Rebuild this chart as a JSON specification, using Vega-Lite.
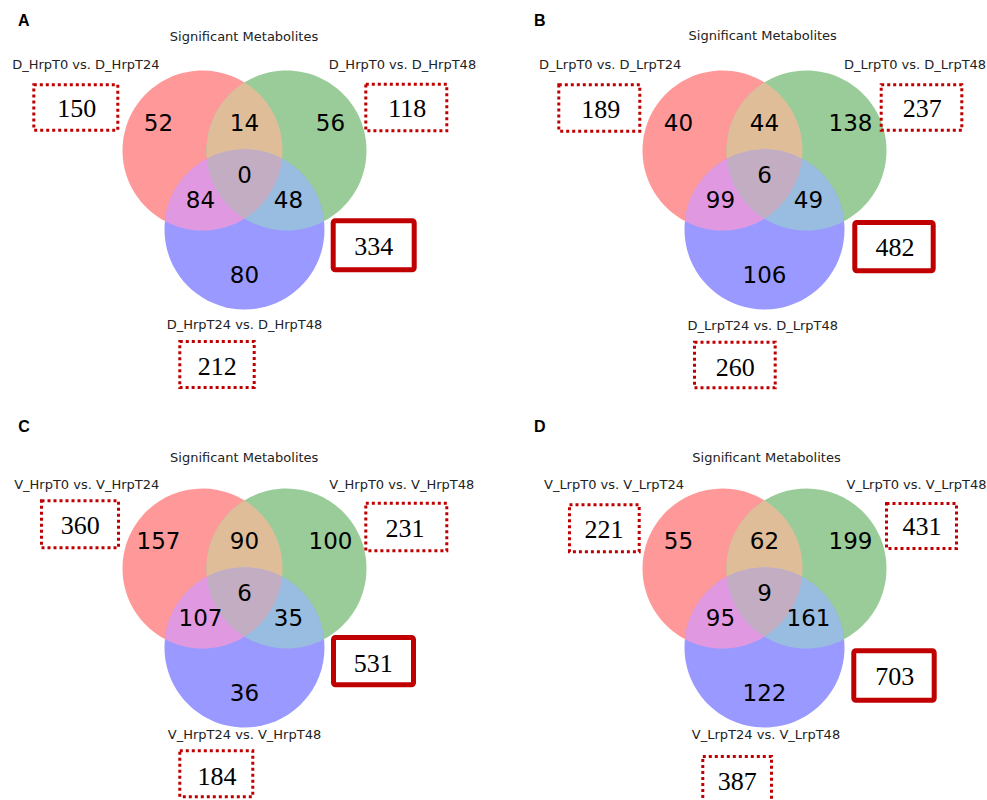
{
  "$schema": "https://vega.github.io/schema/vega-lite/v6.json",
  "padding": 0,
  "background": "white",
  "datasets": {
    "figure": [
      {"panel": "A", "part": "region", "region": "100", "n": 52},
      {"panel": "A", "part": "region", "region": "010", "n": 56},
      {"panel": "A", "part": "region", "region": "001", "n": 80},
      {"panel": "A", "part": "region", "region": "110", "n": 14},
      {"panel": "A", "part": "region", "region": "101", "n": 84},
      {"panel": "A", "part": "region", "region": "011", "n": 48},
      {"panel": "A", "part": "region", "region": "111", "n": 0},
      {"panel": "A", "part": "tag", "slot": "A-tag"},
      {"panel": "A", "part": "head", "slot": "A-head", "text": "Significant Metabolites"},
      {"panel": "A", "part": "set", "slot": "A-1", "text": "D_HrpT0 vs. D_HrpT24", "n": 150},
      {"panel": "A", "part": "set", "slot": "A-2", "text": "D_HrpT0 vs. D_HrpT48", "n": 118},
      {"panel": "A", "part": "set", "slot": "A-3", "text": "D_HrpT24 vs. D_HrpT48", "n": 212},
      {"panel": "A", "part": "union", "slot": "A-all", "n": 334},

      {"panel": "B", "part": "region", "region": "100", "n": 40},
      {"panel": "B", "part": "region", "region": "010", "n": 138},
      {"panel": "B", "part": "region", "region": "001", "n": 106},
      {"panel": "B", "part": "region", "region": "110", "n": 44},
      {"panel": "B", "part": "region", "region": "101", "n": 99},
      {"panel": "B", "part": "region", "region": "011", "n": 49},
      {"panel": "B", "part": "region", "region": "111", "n": 6},
      {"panel": "B", "part": "tag", "slot": "B-tag"},
      {"panel": "B", "part": "head", "slot": "B-head", "text": "Significant Metabolites"},
      {"panel": "B", "part": "set", "slot": "B-1", "text": "D_LrpT0 vs. D_LrpT24", "n": 189},
      {"panel": "B", "part": "set", "slot": "B-2", "text": "D_LrpT0 vs. D_LrpT48", "n": 237},
      {"panel": "B", "part": "set", "slot": "B-3", "text": "D_LrpT24 vs. D_LrpT48", "n": 260},
      {"panel": "B", "part": "union", "slot": "B-all", "n": 482},

      {"panel": "C", "part": "region", "region": "100", "n": 157},
      {"panel": "C", "part": "region", "region": "010", "n": 100},
      {"panel": "C", "part": "region", "region": "001", "n": 36},
      {"panel": "C", "part": "region", "region": "110", "n": 90},
      {"panel": "C", "part": "region", "region": "101", "n": 107},
      {"panel": "C", "part": "region", "region": "011", "n": 35},
      {"panel": "C", "part": "region", "region": "111", "n": 6},
      {"panel": "C", "part": "tag", "slot": "C-tag"},
      {"panel": "C", "part": "head", "slot": "C-head", "text": "Significant Metabolites"},
      {"panel": "C", "part": "set", "slot": "C-1", "text": "V_HrpT0 vs. V_HrpT24", "n": 360},
      {"panel": "C", "part": "set", "slot": "C-2", "text": "V_HrpT0 vs. V_HrpT48", "n": 231},
      {"panel": "C", "part": "set", "slot": "C-3", "text": "V_HrpT24 vs. V_HrpT48", "n": 184},
      {"panel": "C", "part": "union", "slot": "C-all", "n": 531},

      {"panel": "D", "part": "region", "region": "100", "n": 55},
      {"panel": "D", "part": "region", "region": "010", "n": 199},
      {"panel": "D", "part": "region", "region": "001", "n": 122},
      {"panel": "D", "part": "region", "region": "110", "n": 62},
      {"panel": "D", "part": "region", "region": "101", "n": 95},
      {"panel": "D", "part": "region", "region": "011", "n": 161},
      {"panel": "D", "part": "region", "region": "111", "n": 9},
      {"panel": "D", "part": "tag", "slot": "D-tag"},
      {"panel": "D", "part": "head", "slot": "D-head", "text": "Significant Metabolites"},
      {"panel": "D", "part": "set", "slot": "D-1", "text": "V_LrpT0 vs. V_LrpT24", "n": 221},
      {"panel": "D", "part": "set", "slot": "D-2", "text": "V_LrpT0 vs. V_LrpT48", "n": 431},
      {"panel": "D", "part": "set", "slot": "D-3", "text": "V_LrpT24 vs. V_LrpT48", "n": 387},
      {"panel": "D", "part": "union", "slot": "D-all", "n": 703}
    ],
    "regionLayout": [
      {"region": "100", "rx": 158.5, "ry": 123},
      {"region": "010", "rx": 330.5, "ry": 123},
      {"region": "001", "rx": 244.5, "ry": 275},
      {"region": "110", "rx": 244.5, "ry": 123},
      {"region": "101", "rx": 200.5, "ry": 200},
      {"region": "011", "rx": 288.5, "ry": 200},
      {"region": "111", "rx": 244.5, "ry": 174.5}
    ],
    "slotLayout": [
      {"slot": "A-tag", "lx": 18, "ly": 26},
      {"slot": "A-head", "lx": 244, "ly": 40.5},
      {"slot": "A-1", "lx": 85.8, "ly": 68.8, "nx": 76.7, "ny": 108, "x0": 33.8, "x1": 117.8, "y0": 84.8, "y1": 130.2},
      {"slot": "A-2", "lx": 402.5, "ly": 68.8, "nx": 407.2, "ny": 108.3, "x0": 365.8, "x1": 446.8, "y0": 84.2, "y1": 130.8},
      {"slot": "A-3", "lx": 244.5, "ly": 328.8, "nx": 217.2, "ny": 366.2, "x0": 179.8, "x1": 254.2, "y0": 341.5, "y1": 387.5},
      {"slot": "A-all", "nx": 373.7, "ny": 245.8, "x0": 333.2, "x1": 414.2, "y0": 220.8, "y1": 269.8},

      {"slot": "B-tag", "lx": 14, "ly": 26},
      {"slot": "B-head", "lx": 242.7, "ly": 40.2},
      {"slot": "B-1", "lx": 90.2, "ly": 68.8, "nx": 80.7, "ny": 108.7, "x0": 38.8, "x1": 119.8, "y0": 84.8, "y1": 131.2},
      {"slot": "B-2", "lx": 395, "ly": 68.8, "nx": 402.3, "ny": 108, "x0": 361.2, "x1": 441.8, "y0": 84.8, "y1": 130.2},
      {"slot": "B-3", "lx": 242.8, "ly": 330.2, "nx": 215.3, "ny": 366.5, "x0": 174.5, "x1": 255.2, "y0": 342.2, "y1": 387.8},
      {"slot": "B-all", "nx": 375, "ny": 247.3, "x0": 334.8, "x1": 413.2, "y0": 222.5, "y1": 270.8},

      {"slot": "C-tag", "lx": 18.3, "ly": 13.7},
      {"slot": "C-head", "lx": 244.2, "ly": 44.2},
      {"slot": "C-1", "lx": 86.7, "ly": 70.8, "nx": 80.3, "ny": 107.3, "x0": 41.5, "x1": 118.5, "y0": 82.8, "y1": 129.8},
      {"slot": "C-2", "lx": 401.7, "ly": 70.8, "nx": 405, "ny": 109.8, "x0": 365.8, "x1": 446.8, "y0": 85.2, "y1": 132.8},
      {"slot": "C-3", "lx": 244.5, "ly": 320.8, "nx": 217, "ny": 357.5, "x0": 179.8, "x1": 252.8, "y0": 332.8, "y1": 378.8},
      {"slot": "C-all", "nx": 373.3, "ny": 244.5, "x0": 333.5, "x1": 413.5, "y0": 219.5, "y1": 266.8},

      {"slot": "D-tag", "lx": 14, "ly": 13.7},
      {"slot": "D-head", "lx": 246.5, "ly": 44.2},
      {"slot": "D-1", "lx": 94, "ly": 70.8, "nx": 84, "ny": 110.7, "x0": 49.5, "x1": 119.2, "y0": 86.8, "y1": 133.8},
      {"slot": "D-2", "lx": 396.5, "ly": 70.8, "nx": 402, "ny": 108.2, "x0": 366.5, "x1": 436.5, "y0": 85.5, "y1": 130.5},
      {"slot": "D-3", "lx": 246, "ly": 320.8, "nx": 217.3, "ny": 362.8, "x0": 182.8, "x1": 251.5, "y0": 338.5, "y1": 383.5},
      {"slot": "D-all", "nx": 374.8, "ny": 257.8, "x0": 333.8, "x1": 414.2, "y0": 232.8, "y1": 282.2}
    ]
  },
  "data": {"name": "figure"},
  "transform": [
    {"lookup": "region", "from": {"data": {"name": "regionLayout"}, "key": "region", "fields": ["rx", "ry"]}},
    {"lookup": "slot", "from": {"data": {"name": "slotLayout"}, "key": "slot", "fields": ["lx", "ly", "nx", "ny", "x0", "x1", "y0", "y1"]}}
  ],
  "facet": {
    "field": "panel", "type": "nominal",
    "header": {"title": null, "labels": false, "labelExpr": "''", "labelFontSize": 0, "labelPadding": 0}
  },
  "columns": 2,
  "spacing": {"row": 36, "column": 53},
  "bounds": "flush",
  "spec": {
    "width": 467,
    "height": 382,
    "layer": [
      {
        "transform": [{"filter": "datum.part === 'region'"}],
        "mark": {"type": "point", "filled": true, "opacity": 1, "strokeWidth": 0, "size": 40000},
        "encoding": {
          "x": {"field": "rx", "type": "quantitative", "axis": null, "scale": {"domain": [0, 467], "nice": false, "zero": false}},
          "y": {"field": "ry", "type": "quantitative", "axis": null, "scale": {"domain": [0, 382], "nice": false, "zero": false, "reverse": true}},
          "shape": {
            "field": "region", "type": "nominal", "legend": null,
            "scale": {
              "domain": ["100", "010", "001", "110", "101", "011", "111"],
              "range": [
                "M1.24,0.275A0.8,0.8,0,1,1,-0.36,0.275A0.8,0.8,0,1,1,1.24,0.275Z",
                "M0.36,0.275A0.8,0.8,0,1,1,-1.24,0.275A0.8,0.8,0,1,1,0.36,0.275Z",
                "M0.8,-0.455A0.8,0.8,0,1,1,-0.8,-0.455A0.8,0.8,0,1,1,0.8,-0.455Z",
                "M0,-0.4059A0.8,0.8,0,0,1,0,0.9559A0.8,0.8,0,0,1,0,-0.4059Z",
                "M-0.3556,0.2113A0.8,0.8,0,0,1,0.8156,-0.4113A0.8,0.8,0,0,1,-0.3556,0.2113Z",
                "M-0.8156,-0.4113A0.8,0.8,0,0,1,0.3556,0.2113A0.8,0.8,0,0,1,-0.8156,-0.4113Z",
                "M-0.3756,-0.1563A0.8,0.8,0,0,1,0.3756,-0.1563A0.8,0.8,0,0,1,0,0.4409A0.8,0.8,0,0,1,-0.3756,-0.1563Z"
              ]
            }
          },
          "color": {
            "field": "region", "type": "nominal", "legend": null,
            "scale": {
              "domain": ["100", "010", "001", "110", "101", "011", "111"],
              "range": ["#ff9999", "#99cc99", "#9999ff", "#e0bd99", "#e099e0", "#99bde0", "#c2adc2"]
            }
          }
        }
      },
      {
        "transform": [{"filter": "datum.part === 'region'"}],
        "mark": {"type": "text", "font": "DejaVu Sans", "fontSize": 23, "align": "center", "baseline": "middle", "dy": 1, "color": "#000000"},
        "encoding": {
          "x": {"field": "rx", "type": "quantitative", "axis": null, "scale": {"domain": [0, 467], "nice": false, "zero": false}},
          "y": {"field": "ry", "type": "quantitative", "axis": null, "scale": {"domain": [0, 382], "nice": false, "zero": false, "reverse": true}},
          "text": {"field": "n", "type": "nominal"}
        }
      },
      {
        "transform": [{"filter": "datum.part === 'tag'"}],
        "mark": {"type": "text", "font": "Liberation Sans", "fontSize": 16, "fontWeight": "bold", "align": "left", "baseline": "alphabetic", "color": "#000000"},
        "encoding": {
          "x": {"field": "lx", "type": "quantitative", "axis": null, "scale": {"domain": [0, 467], "nice": false, "zero": false}},
          "y": {"field": "ly", "type": "quantitative", "axis": null, "scale": {"domain": [0, 382], "nice": false, "zero": false, "reverse": true}},
          "text": {"field": "panel", "type": "nominal"}
        }
      },
      {
        "transform": [{"filter": "datum.part === 'head' || datum.part === 'set'"}],
        "mark": {"type": "text", "font": "DejaVu Sans", "fontSize": 13, "align": "center", "baseline": "alphabetic", "color": "#222222"},
        "encoding": {
          "x": {"field": "lx", "type": "quantitative", "axis": null, "scale": {"domain": [0, 467], "nice": false, "zero": false}},
          "y": {"field": "ly", "type": "quantitative", "axis": null, "scale": {"domain": [0, 382], "nice": false, "zero": false, "reverse": true}},
          "text": {"field": "text", "type": "nominal"}
        }
      },
      {
        "transform": [{"filter": "datum.part === 'set' && (datum.panel === 'A' || datum.panel === 'B')"}],
        "mark": {"type": "rect", "filled": false, "stroke": "#c00000", "strokeWidth": 3, "strokeDash": [3, 3]},
        "encoding": {
          "x": {"field": "x0", "type": "quantitative", "axis": null, "scale": {"domain": [0, 467], "nice": false, "zero": false}},
          "x2": {"field": "x1"},
          "y": {"field": "y0", "type": "quantitative", "axis": null, "scale": {"domain": [0, 382], "nice": false, "zero": false, "reverse": true}},
          "y2": {"field": "y1"}
        }
      },
      {
        "transform": [{"filter": "datum.part === 'set' && (datum.panel === 'C' || datum.panel === 'D')"}],
        "mark": {"type": "rect", "filled": false, "stroke": "#c00000", "strokeWidth": 3, "strokeDash": [3, 3], "clip": true},
        "encoding": {
          "x": {"field": "x0", "type": "quantitative", "axis": null, "scale": {"domain": [0, 467], "nice": false, "zero": false}},
          "x2": {"field": "x1"},
          "y": {"field": "y0", "type": "quantitative", "axis": null, "scale": {"domain": [0, 382], "nice": false, "zero": false, "reverse": true}},
          "y2": {"field": "y1"}
        }
      },
      {
        "transform": [{"filter": "datum.part === 'union'"}],
        "mark": {"type": "rect", "filled": false, "stroke": "#c00000", "strokeWidth": 5, "cornerRadius": 2},
        "encoding": {
          "x": {"field": "x0", "type": "quantitative", "axis": null, "scale": {"domain": [0, 467], "nice": false, "zero": false}},
          "x2": {"field": "x1"},
          "y": {"field": "y0", "type": "quantitative", "axis": null, "scale": {"domain": [0, 382], "nice": false, "zero": false, "reverse": true}},
          "y2": {"field": "y1"}
        }
      },
      {
        "transform": [{"filter": "datum.part === 'set' || datum.part === 'union'"}],
        "mark": {"type": "text", "font": "Liberation Serif", "fontSize": 26, "align": "center", "baseline": "middle", "dy": 1, "color": "#000000"},
        "encoding": {
          "x": {"field": "nx", "type": "quantitative", "axis": null, "scale": {"domain": [0, 467], "nice": false, "zero": false}},
          "y": {"field": "ny", "type": "quantitative", "axis": null, "scale": {"domain": [0, 382], "nice": false, "zero": false, "reverse": true}},
          "text": {"field": "n", "type": "nominal"}
        }
      }
    ]
  },
  "config": {"view": {"stroke": null}, "header": {"labels": false, "title": null}}
}
